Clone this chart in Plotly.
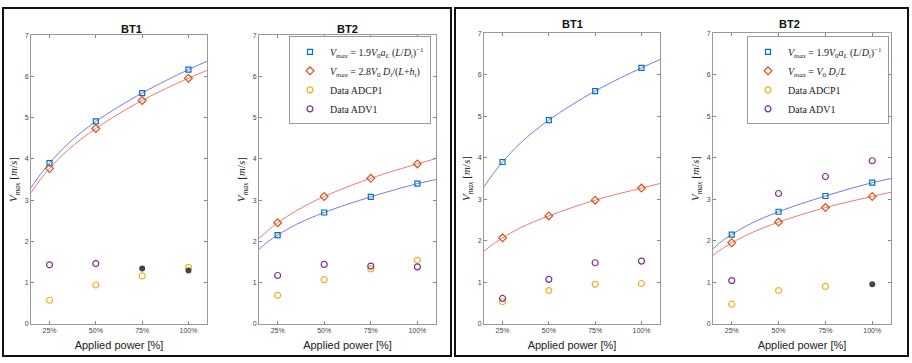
import plotly.graph_objects as go

W, H = 912, 363

# ---------------- data ----------------
power = [25, 50, 75, 100]
tick_labels = ["25%", "50%", "75%", "100%"]
curve_x = [15, 20, 25, 35, 50, 75, 100, 110]

# Left panel, BT1
l_bt1_model1 = [3.90, 4.91, 5.60, 6.17]
l_bt1_model2 = [3.77, 4.74, 5.42, 5.96]
l_bt1_adcp = [0.57, 0.94, 1.16, 1.37]
l_bt1_adv = [1.43, 1.46, None, None]
l_bt1_filled = [None, None, 1.34, 1.29]
l_bt1_curve1 = [3.30, 3.62, 3.90, 4.37, 4.91, 5.60, 6.17, 6.37]
l_bt1_curve2 = [3.18, 3.50, 3.77, 4.22, 4.74, 5.42, 5.96, 6.15]

# Left panel, BT2
l_bt2_model1 = [2.15, 2.70, 3.08, 3.40]
l_bt2_model2 = [2.45, 3.09, 3.53, 3.88]
l_bt2_adcp = [0.69, 1.07, 1.33, 1.54]
l_bt2_adv = [1.17, 1.44, 1.40, 1.38]
l_bt2_curve1 = [1.81, 2.00, 2.15, 2.41, 2.70, 3.08, 3.40, 3.50]
l_bt2_curve2 = [2.07, 2.27, 2.45, 2.74, 3.09, 3.53, 3.88, 4.01]

# Right panel, BT1
r_bt1_model1 = [3.90, 4.91, 5.61, 6.17]
r_bt1_model2 = [2.07, 2.60, 2.98, 3.27]
r_bt1_adcp = [0.53, 0.80, 0.95, 0.97]
r_bt1_adv = [0.61, 1.07, 1.47, 1.51]
r_bt1_curve1 = [3.30, 3.62, 3.90, 4.37, 4.91, 5.61, 6.17, 6.37]
r_bt1_curve2 = [1.75, 1.92, 2.07, 2.32, 2.60, 2.98, 3.27, 3.38]

# Right panel, BT2
r_bt2_model1 = [2.15, 2.70, 3.08, 3.40]
r_bt2_model2 = [1.95, 2.45, 2.80, 3.07]
r_bt2_adcp = [0.47, 0.80, 0.90, None]
r_bt2_adv = [1.04, 3.14, 3.55, 3.93]
r_bt2_filled = [None, None, None, 0.95]
r_bt2_curve1 = [1.81, 2.00, 2.15, 2.41, 2.70, 3.08, 3.40, 3.50]
r_bt2_curve2 = [1.65, 1.81, 1.95, 2.18, 2.45, 2.80, 3.07, 3.17]

# ---------------- styles ----------------
BLUE = "#0072BD"
RED = "#D95319"
YELLOW = "#EDB120"
PURPLE = "#7E2F8E"
LBLUE = "#7676EE"
LRED = "#EE7878"
DARK = "#444444"
SANS = "Liberation Sans, Arial, sans-serif"
SERIF = "Liberation Serif, DejaVu Serif, serif"

fig = go.Figure()


def px_x(p):
    return p / W


def px_y(p):
    return 1 - p / H


panels = [
    dict(ax="", xr=(31, 207), top=32, tcy=25, title="BT1", m1=l_bt1_model1, m2=l_bt1_model2,
         adcp=l_bt1_adcp, adv=l_bt1_adv, filled=l_bt1_filled,
         c1=l_bt1_curve1, c2=l_bt1_curve2, legend=None, lab2=None),
    dict(ax="2", xr=(259, 436), top=32, tcy=25, title="BT2", m1=l_bt2_model1, m2=l_bt2_model2,
         adcp=l_bt2_adcp, adv=l_bt2_adv, filled=None,
         c1=l_bt2_curve1, c2=l_bt2_curve2, legend="legend",
         lab2="<i>V</i><sub><i>max</i></sub> = 2.8<i>V</i><sub>0</sub> <i>D<sub>i</sub></i>/(<i>L</i>+<i>h<sub>i</sub></i>)"),
    dict(ax="3", xr=(484, 660), top=30, tcy=20, title="BT1", m1=r_bt1_model1, m2=r_bt1_model2,
         adcp=r_bt1_adcp, adv=r_bt1_adv, filled=None,
         c1=r_bt1_curve1, c2=r_bt1_curve2, legend=None, lab2=None),
    dict(ax="4", xr=(713, 891), top=30, tcy=20, title="BT2", m1=r_bt2_model1, m2=r_bt2_model2,
         adcp=r_bt2_adcp, adv=r_bt2_adv, filled=r_bt2_filled,
         c1=r_bt2_curve1, c2=r_bt2_curve2, legend="legend2",
         lab2="<i>V</i><sub><i>max</i></sub> = <i>V</i><sub>0</sub> <i>D<sub>i</sub></i>/<i>L</i>"),
]

lab1 = "<i>V</i><sub><i>max</i></sub> = 1.9<i>V</i><sub>0</sub><i>a<sub>L</sub></i> (<i>L</i>/<i>D<sub>i</sub></i>)<sup>−1</sup>"

BOTTOM = 326
layout_axes = {}
for p in panels:
    xa = "x" + p["ax"]
    ya = "y" + p["ax"]
    show = p["legend"] is not None
    lg = p["legend"] if show else "legend"
    common = dict(xaxis=xa, yaxis=ya)
    fig.add_trace(go.Scatter(x=curve_x, y=p["c1"], mode="lines", line=dict(color=LBLUE, width=1, shape="spline"),
                             showlegend=False, hoverinfo="skip", **common))
    fig.add_trace(go.Scatter(x=curve_x, y=p["c2"], mode="lines", line=dict(color=LRED, width=1, shape="spline"),
                             showlegend=False, hoverinfo="skip", **common))
    fig.add_trace(go.Scatter(x=power, y=p["m1"], mode="markers", name=lab1,
                             marker=dict(symbol="square-open", size=5, color=BLUE, line=dict(width=1.2, color=BLUE)),
                             showlegend=show, legend=lg, **common))
    fig.add_trace(go.Scatter(x=power, y=p["m2"], mode="markers", name=p["lab2"] or "model 2",
                             marker=dict(symbol="diamond-open", size=6, color=RED, line=dict(width=1.2, color=RED)),
                             showlegend=show, legend=lg, **common))
    fig.add_trace(go.Scatter(x=power, y=p["adcp"], mode="markers", name="Data ADCP1",
                             marker=dict(symbol="circle-open", size=6, color=YELLOW, line=dict(width=1.2, color=YELLOW)),
                             showlegend=show, legend=lg, **common))
    fig.add_trace(go.Scatter(x=power, y=p["adv"], mode="markers", name="Data ADV1",
                             marker=dict(symbol="circle-open", size=6, color=PURPLE, line=dict(width=1.2, color=PURPLE)),
                             showlegend=show, legend=lg, **common))
    if p["filled"] is not None:
        fig.add_trace(go.Scatter(x=power, y=p["filled"], mode="markers",
                                 marker=dict(symbol="circle", size=6, color=DARK),
                                 showlegend=False, **common))

    axkey = "xaxis" + p["ax"]
    aykey = "yaxis" + p["ax"]
    layout_axes[axkey] = dict(
        domain=[px_x(p["xr"][0]), px_x(p["xr"][1])], anchor=ya, range=[15, 110],
        tickvals=power, ticktext=tick_labels, ticks="inside", ticklen=3, tickcolor="#888888",
        showline=True, linecolor="#999999", linewidth=1, mirror="ticks", showgrid=False, zeroline=False,
        tickfont=dict(family=SANS, size=7, color="#444444"),
        title=dict(text="Applied power [%]", font=dict(family=SANS, size=11, color="#222222"), standoff=8),
    )
    layout_axes[aykey] = dict(
        domain=[px_y(BOTTOM), px_y(p["top"])], anchor=xa, range=[0, 7],
        tickvals=list(range(8)), ticks="inside", ticklen=3, tickcolor="#888888",
        showline=True, linecolor="#999999", linewidth=1, mirror="ticks", showgrid=False, zeroline=False,
        tickfont=dict(family=SANS, size=7, color="#444444"),
        title=dict(text="<i>V</i><sub><i>max</i></sub> [<i>m</i>/<i>s</i>]",
                   font=dict(family=SERIF, size=11, color="#222222"), standoff=4),
    )
    cx = (p["xr"][0] + p["xr"][1]) / 2
    fig.add_annotation(x=px_x(cx), y=px_y(p["tcy"]), xref="paper", yref="paper", text="<b>%s</b>" % p["title"],
                       showarrow=False, font=dict(family=SANS, size=11, color="#111111"), yanchor="middle")

legend_style = dict(font=dict(family=SERIF, size=10, color="#222222"), bgcolor="white",
                    bordercolor="#999999", borderwidth=1, xanchor="right", yanchor="top",
                    itemsizing="trace", tracegroupgap=0, itemwidth=30)

fig.update_layout(
    width=W, height=H,
    margin=dict(l=0, r=0, t=0, b=0),
    paper_bgcolor="white", plot_bgcolor="white",
    legend=dict(x=px_x(431), y=px_y(33), **legend_style),
    legend2=dict(x=px_x(889), y=px_y(33), **legend_style),
    **layout_axes,
)

# panel frames
for x0, x1 in [(3, 451), (455, 908)]:
    fig.add_shape(type="rect", xref="paper", yref="paper",
                  x0=px_x(x0), x1=px_x(x1), y0=px_y(359), y1=px_y(4),
                  line=dict(color="#111111", width=2), fillcolor="rgba(0,0,0,0)")

fig.write_html("out.html", config={"displayModeBar": False},
               post_script="document.body.style.margin='0';")
